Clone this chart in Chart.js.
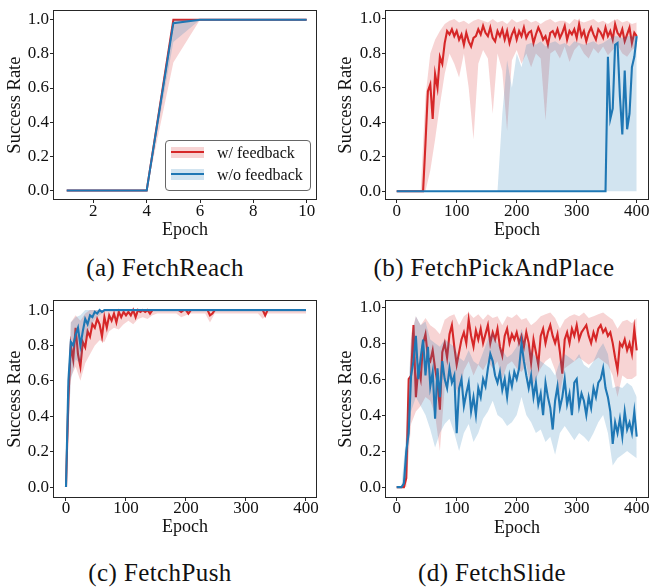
<!DOCTYPE html>
<html>
<head>
<meta charset="utf-8">
<script src="https://cdn.jsdelivr.net/npm/chart.js@4.4.0/dist/chart.umd.min.js"></script>
<style>
  body { margin: 0; background: #fff; }
  #wrap { position: relative; width: 650px; height: 587px; overflow: hidden; }
  canvas { position: absolute; }
  .cap { position: absolute; font-family: 'Liberation Serif', serif; font-size: 25px; line-height: 28px;
         letter-spacing: 0.4px; color: #111; transform: translateX(-50%); white-space: nowrap; }
  .legend { position: absolute; background: rgba(255,255,255,0.85); border: 1px solid #666; border-radius: 4px;
            font-family: 'Liberation Serif', serif; font-size: 16px; color: #111; }
  .legend div, .legend span { position: absolute; }
  .patch { left: 5px; width: 33px; height: 11px; }
  .ln { left: 5px; width: 33px; height: 2px; }
  .lab { left: 51px; line-height: 18px; white-space: nowrap; }
</style>
</head>
<body>
<div id="wrap">
  <canvas id="chartA" width="325" height="250" style="left:0;top:0"></canvas>
  <canvas id="chartB" width="325" height="250" style="left:325px;top:0"></canvas>
  <canvas id="chartC" width="325" height="250" style="left:0;top:290px"></canvas>
  <canvas id="chartD" width="325" height="250" style="left:325px;top:290px"></canvas>

  <div class="legend" style="left:165px;top:140px;width:144px;height:49px">
    <span class="patch" style="top:6px;background:rgba(214,39,40,0.2)"></span>
    <span class="ln" style="top:10px;background:#d62728"></span>
    <div class="lab" style="top:3px">w/ feedback</div>
    <span class="patch" style="top:28px;background:rgba(31,119,180,0.2)"></span>
    <span class="ln" style="top:32px;background:#1f77b4"></span>
    <div class="lab" style="top:25px">w/o feedback</div>
  </div>

  <div class="cap" style="left:165px;top:254px">(a) FetchReach</div>
  <div class="cap" style="left:494px;top:254px">(b) FetchPickAndPlace</div>
  <div class="cap" style="left:160px;top:559px">(c) FetchPush</div>
  <div class="cap" style="left:492px;top:559px">(d) FetchSlide</div>
</div>
<script>
// ---- (a) FetchReach ----
const aEpochs = [1, 2, 3, 4, 5, 6, 7, 8, 9, 10];
const aRed    = [0, 0, 0, 0, 1, 1, 1, 1, 1, 1];
const aRedLo  = [0, 0, 0, 0, .75, 1, 1, 1, 1, 1];
const aRedHi  = [0, 0, 0, 0, 1, 1, 1, 1, 1, 1];
const aBlue   = [0, 0, 0, 0, .98, 1, 1, 1, 1, 1];
const aBlueLo = [0, 0, 0, 0, .87, 1, 1, 1, 1, 1];
const aBlueHi = [0, 0, 0, 0, 1, 1, 1, 1, 1, 1];

// epochs of the long runs: means every 4 epochs, bands every 8 epochs
const epochs4 = Array.from({length: 101}, (_, i) => i * 4);
const epochs8 = Array.from({length: 51}, (_, i) => i * 8);

// ---- (b) FetchPickAndPlace ----
const bRed = [
  0, 0, 0, 0, 0, 0, 0, 0, 0, 0,
  0, 0, .28, .58, .62, .42, .68, .6, .78, .74,
  .86, .93, .91, .94, .9, .93, .88, .91, .85, .92,
  .87, .84, .89, .9, .94, .91, .96, .92, .9, .95,
  .89, .87, .93, .9, .94, .88, .93, .86, .91, .94,
  .88, .93, .9, .95, .89, .92, .93, .86, .91, .95,
  .92, .88, .9, .85, .92, .93, .9, .94, .89, .92,
  .96, .88, .93, .91, .94, .89, .97, .9, .93, .87,
  .92, .95, .91, .88, .94, .92, .89, .95, .9, .93,
  .88, .97, .92, .9, .94, .87, .91, .95, .86, .92,
  .9];
const bBlue = [
  0, 0, 0, 0, 0, 0, 0, 0, 0, 0,
  0, 0, 0, 0, 0, 0, 0, 0, 0, 0,
  0, 0, 0, 0, 0, 0, 0, 0, 0, 0,
  0, 0, 0, 0, 0, 0, 0, 0, 0, 0,
  0, 0, 0, 0, 0, 0, 0, 0, 0, 0,
  0, 0, 0, 0, 0, 0, 0, 0, 0, 0,
  0, 0, 0, 0, 0, 0, 0, 0, 0, 0,
  0, 0, 0, 0, 0, 0, 0, 0, 0, 0,
  0, 0, 0, 0, 0, 0, 0, 0, .78, .42,
  .48, .85, .86, .55, .33, .7, .36, .45, .72, .78,
  .9];
const bRedLo = [
  0, 0, 0, 0, 0, 0, 0, .12, .3, .5,
  .68, .8, .74, .66, .8, .6, .3, .74, .82, .77,
  .45, .8, .7, .35, .76, .82, .74, .8, .72, .8,
  .77, .41, .8, .82, .77, .84, .75, .82, .85, .8,
  .77, .83, .8, .84, .79, .82, .85, .8, .78, .82,
  .84];
const bRedHi = [
  0, 0, 0, 0, 0, 0, .55, .8, .88, .93,
  .97, .99, 1, .98, .99, .97, .99, 1, .99, .98,
  1, .98, .99, .97, 1, .98, .99, 1, .98, .99,
  .97, .99, 1, .98, .99, .99, .97, 1, .99, .98,
  .99, 1, .98, .99, .97, .99, 1, .98, .99, .97,
  .98];
const bBlueLo = [
  0, 0, 0, 0, 0, 0, 0, 0, 0, 0,
  0, 0, 0, 0, 0, 0, 0, 0, 0, 0,
  0, 0, 0, 0, 0, 0, 0, 0, 0, 0,
  0, 0, 0, 0, 0, 0, 0, 0, 0, 0,
  0, 0, 0, 0, 0, 0, 0, 0, 0, 0,
  0];
const bBlueHi = [
  0, 0, 0, 0, 0, 0, 0, 0, 0, 0,
  0, 0, 0, 0, 0, 0, 0, 0, 0, 0,
  0, 0, .45, .76, .6, .8, .72, .85, .86, .85,
  .87, .84, .86, .87, .85, .86, .84, .87, .86, .85,
  .86, .87, .85, .86, .88, .9, .9, .89, .9, .9,
  .9];

// ---- (c) FetchPush ----
const cRed = [
  0, .5, .8, .72, .9, .75, .68, .82, .79, .88,
  .85, .92, .9, .95, .92, .85, .96, .9, .97, .94,
  .98, .93, .99, .96, .99, .97, .99, .97, 1, .96,
  1, .99, 1, .99, 1, .98, 1, 1, 1, 1,
  1, 1, 1, 1, 1, 1, 1, 1, .99, 1,
  1, .98, 1, 1, 1, 1, 1, 1, 1, 1,
  .97, .98, 1, 1, 1, 1, 1, 1, 1, 1,
  1, 1, 1, 1, 1, 1, 1, 1, 1, 1,
  1, 1, 1, .97, 1, 1, 1, 1, 1, 1,
  1, 1, 1, 1, 1, 1, 1, 1, 1, 1,
  1];
const cBlue = [
  0, .6, .82, .8, .86, .9, .8, .88, .95, .92,
  .97, .96, .99, .98, 1, .99, 1, 1, 1, 1,
  1, 1, 1, 1, 1, 1, 1, 1, 1, 1,
  1, 1, 1, 1, 1, 1, 1, 1, 1, 1,
  1, 1, 1, 1, 1, 1, 1, 1, 1, 1,
  1, 1, 1, 1, 1, 1, 1, 1, 1, 1,
  1, 1, 1, 1, 1, 1, 1, 1, 1, 1,
  1, 1, 1, 1, 1, 1, 1, 1, 1, 1,
  1, 1, 1, 1, 1, 1, 1, 1, 1, 1,
  1, 1, 1, 1, 1, 1, 1, 1, 1, 1,
  1];
const cRedLo = [
  0, .62, .68, .6, .7, .75, .8, .83, .82, .88,
  .9, .89, .92, .94, .92, .95, .96, .95, .97, .98,
  .98, .98, .98, .98, .96, .97, .98, .98, .98, .98,
  .93, .98, .98, .98, .98, .98, .98, .98, .98, .98,
  .98, .95, .98, .98, .98, .98, .98, .98, .98, .98,
  .98];
const cRedHi = [
  0, .93, .97, .94, .98, 1, 1, 1, 1, 1,
  1, 1, 1, 1, 1, 1, 1, 1, 1, 1,
  1, 1, 1, 1, 1, 1, 1, 1, 1, 1,
  1, 1, 1, 1, 1, 1, 1, 1, 1, 1,
  1, 1, 1, 1, 1, 1, 1, 1, 1, 1,
  1];
const cBlueLo = [
  0, .6, .72, .7, .84, .9, .95, .97, .99, .99,
  .99, .99, .99, .99, .99, .99, .99, .99, .99, .99,
  .99, .99, .99, .99, .99, .99, .99, .99, .99, .99,
  .99, .99, .99, .99, .99, .99, .99, .99, .99, .99,
  .99, .99, .99, .99, .99, .99, .99, .99, .99, .99,
  .99];
const cBlueHi = [
  0, .93, .96, .97, 1, 1, 1, 1, 1, 1,
  1, 1, 1, 1, 1, 1, 1, 1, 1, 1,
  1, 1, 1, 1, 1, 1, 1, 1, 1, 1,
  1, 1, 1, 1, 1, 1, 1, 1, 1, 1,
  1, 1, 1, 1, 1, 1, 1, 1, 1, 1,
  1];

// ---- (d) FetchSlide ----
const dRed = [
  0, 0, 0, 0, .05, .6, .62, .9, .5, .66,
  .6, .8, .85, .72, .7, .76, .66, .58, .43, .75,
  .8, .72, .85, .9, .78, .68, .75, .82, .86, .8,
  .93, .84, .78, .87, .82, .88, .8, .85, .9, .8,
  .86, .82, .88, .78, .73, .84, .88, .8, .85, .82,
  .86, .8, .84, .78, .86, .8, .69, .82, .75, .68,
  .84, .88, .8, .86, .9, .84, .8, .85, .75, .63,
  .82, .86, .8, .88, .84, .9, .82, .86, .88, .9,
  .84, .8, .86, .82, .88, .9, .86, .88, .84, .86,
  .8, .72, .65, .8, .78, .82, .76, .8, .74, .88,
  .76];
const dBlue = [
  0, 0, 0, .02, .2, .3, .62, .7, .84, .6,
  .72, .82, .62, .78, .56, .64, .38, .66, .5, .7,
  .6, .55, .66, .58, .62, .3, .55, .6, .45, .52,
  .58, .42, .5, .4, .55, .5, .6, .56, .66, .74,
  .7, .62, .58, .64, .54, .6, .5, .62, .56, .64,
  .6, .66, .8, .7, .62, .55, .62, .5, .58, .46,
  .52, .4, .58, .5, .44, .32, .48, .56, .44, .5,
  .6, .46, .52, .4, .58, .6, .45, .52, .48, .4,
  .5, .44, .55, .5, .58, .6, .66, .55, .5, .42,
  .24, .36, .3, .38, .28, .42, .32, .36, .3, .42,
  .28];
const dRedLo = [
  0, 0, 0, .35, .42, .45, .5, .48, .4, .2,
  .55, .6, .58, .5, .65, .7, .62, .68, .65, .7,
  .66, .7, .6, .68, .7, .66, .64, .68, .55, .6,
  .66, .7, .72, .65, .52, .66, .68, .7, .72, .7,
  .68, .7, .72, .7, .68, .62, .5, .62, .6, .6,
  .62];
const dRedHi = [
  0, 0, .1, .85, .95, .9, .94, .9, .88, .85,
  .93, .95, .96, .9, .95, .97, .94, .96, .93, .96,
  .94, .95, .9, .95, .94, .96, .93, .94, .9, .92,
  .95, .96, .97, .94, .88, .93, .95, .96, .95, .97,
  .94, .95, .96, .97, .95, .93, .88, .92, .93, .91,
  .94];
const dBlueLo = [
  0, 0, .05, .42, .5, .45, .4, .32, .22, .3,
  .35, .38, .3, .2, .3, .35, .25, .3, .38, .42,
  .48, .4, .38, .34, .36, .4, .5, .4, .36, .3,
  .32, .25, .28, .18, .3, .34, .3, .26, .3, .28,
  .25, .3, .36, .4, .3, .12, .16, .18, .2, .18,
  .16];
const dBlueHi = [
  0, 0, .3, .82, .95, .9, .92, .82, .8, .78,
  .82, .8, .78, .72, .7, .76, .7, .68, .75, .82,
  .86, .8, .76, .72, .74, .78, .88, .8, .76, .72,
  .7, .68, .66, .62, .7, .74, .72, .7, .74, .68,
  .66, .7, .76, .8, .74, .55, .56, .55, .58, .56,
  .5];

const yTicks = [0, 0.2, 0.4, 0.6, 0.8, 1.0];
const aTicks = [2, 4, 6, 8, 10];
const longTicks = [0, 100, 200, 300, 400];

const FONT = "'Liberation Serif', 'Times New Roman', serif";
const RED = '#d62728', BLUE = '#1f77b4';
const RED_BAND = 'rgba(214, 39, 40, 0.2)', BLUE_BAND = 'rgba(31, 119, 180, 0.2)';

function pts(xs, ys) {
    return xs.map((x, i) => ({ x: x, y: ys[i] }));
}

function lineSet(data, color, width) {
    return { data, borderColor: color, borderWidth: width, pointRadius: 0, fill: false, tension: 0 };
}

function bandSet(data, color, fill) {
    return { data, borderWidth: 0, borderColor: 'rgba(0,0,0,0)', backgroundColor: color,
             pointRadius: 0, fill: fill, tension: 0 };
}

// box round the plot area, like the matplotlib spines
const framePlugin = {
    id: 'frame',
    afterDraw(chart) {
        const { ctx, chartArea: a } = chart;
        ctx.save();
        ctx.strokeStyle = '#262626';
        ctx.lineWidth = 1;
        ctx.strokeRect(Math.round(a.left) - 0.5, Math.round(a.top) - 0.5,
                       Math.round(a.right - a.left) + 1, Math.round(a.bottom - a.top) + 1);
        ctx.restore();
    }
};

function makePanel(id, p) {
    const ctx = document.getElementById(id).getContext('2d');
    return new Chart(ctx, {
        type: 'line',
        data: {
            datasets: [
                lineSet(pts(p.xs, p.blue), BLUE, p.lw),
                bandSet(pts(p.bandXs, p.blueHi), BLUE_BAND, '+1'),
                bandSet(pts(p.bandXs, p.blueLo), BLUE_BAND, false),
                lineSet(pts(p.xs, p.red), RED, p.lw),
                bandSet(pts(p.bandXs, p.redHi), RED_BAND, '+1'),
                bandSet(pts(p.bandXs, p.redLo), RED_BAND, false)
            ]
        },
        options: {
            responsive: false,
            animation: false,
            devicePixelRatio: 1,
            layout: { padding: { left: 0, top: p.padTop, right: p.padRight, bottom: 0 } },
            plugins: { legend: { display: false }, tooltip: { enabled: false } },
            scales: {
                x: {
                    type: 'linear',
                    min: p.xMin,
                    max: p.xMax,
                    afterBuildTicks: s => { s.ticks = p.xTicks.map(v => ({ value: v })); },
                    afterFit: s => { s.height = p.xHeight; },
                    grid: { drawOnChartArea: false, drawTicks: true, tickLength: 4, color: '#262626' },
                    border: { display: false },
                    ticks: { font: { family: FONT, size: 17, lineHeight: 1 }, color: '#111', padding: p.xTickPad,
                             maxRotation: 0, autoSkip: false, callback: v => String(v) },
                    title: { display: true, text: 'Epoch', color: '#111',
                             font: { family: FONT, size: 18 }, padding: { top: 0, bottom: p.xTitlePad } }
                },
                y: {
                    type: 'linear',
                    min: p.yMin,
                    max: p.yMax,
                    afterBuildTicks: s => { s.ticks = yTicks.map(v => ({ value: v })); },
                    afterFit: s => { s.width = p.yWidth; },
                    grid: { drawOnChartArea: false, drawTicks: true, tickLength: 4, color: '#262626' },
                    border: { display: false },
                    ticks: { font: { family: FONT, size: 17 }, color: '#111', padding: 1,
                             callback: v => v.toFixed(1) },
                    title: { display: true, text: 'Success Rate', color: '#111',
                             font: { family: FONT, size: 18.5 }, padding: { top: p.yTitlePad, bottom: 0 } }
                }
            }
        },
        plugins: [framePlugin]
    });
}

makePanel('chartA', {
    xs: aEpochs, bandXs: aEpochs, red: aRed, redLo: aRedLo, redHi: aRedHi,
    blue: aBlue, blueLo: aBlueLo, blueHi: aBlueHi, lw: 2,
    xMin: 0.524, xMax: 10.35, yMin: -0.05, yMax: 1.05, xTicks: aTicks,
    padTop: 2, padRight: 9, yWidth: 54, xHeight: 51, yTitlePad: 4, xTitlePad: 9, xTickPad: 0
});

makePanel('chartB', {
    xs: epochs4, bandXs: epochs8, red: bRed, redLo: bRedLo, redHi: bRedHi,
    blue: bBlue, blueLo: bBlueLo, blueHi: bBlueHi, lw: 2.1,
    xMin: -17.8, xMax: 418.8, yMin: -0.045, yMax: 1.045, xTicks: longTicks,
    padTop: 4, padRight: 2, yWidth: 61, xHeight: 51, yTitlePad: 10, xTitlePad: 9, xTickPad: 0
});

makePanel('chartC', {
    xs: epochs4, bandXs: epochs8, red: cRed, redLo: cRedLo, redHi: cRedHi,
    blue: cBlue, blueLo: cBlueLo, blueHi: cBlueHi, lw: 2.1,
    xMin: -20, xMax: 416.7, yMin: -0.056, yMax: 1.05, xTicks: longTicks,
    padTop: 10, padRight: 9, yWidth: 54, xHeight: 43, yTitlePad: 4, xTitlePad: 2, xTickPad: -1
});

makePanel('chartD', {
    xs: epochs4, bandXs: epochs8, red: dRed, redLo: dRedLo, redHi: dRedHi,
    blue: dBlue, blueLo: dBlueLo, blueHi: dBlueHi, lw: 2.1,
    xMin: -17.8, xMax: 418.8, yMin: -0.055, yMax: 1.033, xTicks: longTicks,
    padTop: 10, padRight: 2, yWidth: 61, xHeight: 43, yTitlePad: 10, xTitlePad: 1, xTickPad: -1
});
</script>
</body>
</html>
